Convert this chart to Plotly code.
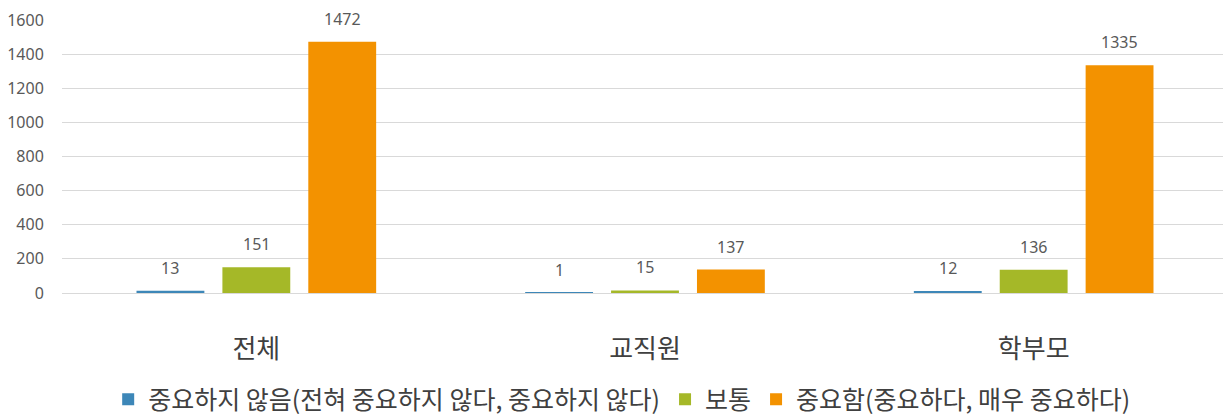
import plotly.graph_objects as go

# -- Data ---------------------------------------------------------------------

categories = ["전체", "교직원", "학부모"]
series_names = [
    "중요하지 않음(전혀 중요하지 않다, 중요하지 않다)",
    "보통",
    "중요함(중요하다, 매우 중요하다)",
]
not_important = [13, 1, 12]
neutral = [151, 15, 136]
important = [1472, 137, 1335]
y_ticks = [0, 200, 400, 600, 800, 1000, 1200, 1400, 1600]

# -- Theme --------------------------------------------------------------------

BLUE = "#3d87b8"
GREEN = "#a5b828"
ORANGE = "#f39200"
TEXT_COLOR = "#404040"
AXIS_COLOR = "#595959"
GRID_COLOR = "#d9d9d9"
NUM_FONT = "Noto Sans, sans-serif"
KR_FONT = "Noto Sans CJK KR, sans-serif"

# page body adds an 8px margin, so the figure is shifted by 8px
WIDTH, HEIGHT = 1223, 416
MARGIN = dict(l=54, r=3, t=12, b=130)
BARGAP = 0.337
LABEL_LIFT = 23  # px from bar top to the centre of its value label

all_series = [not_important, neutral, important]
colors = [BLUE, GREEN, ORANGE]

fig = go.Figure()
for name, vals, color in zip(series_names, all_series, colors):
    fig.add_trace(go.Bar(
        name=name,
        x=categories,
        y=vals,
        marker=dict(color=color, line=dict(width=0)),
        cliponaxis=False,
    ))

# value labels sit higher above the bars than plotly's outside text does
plot_w = WIDTH - MARGIN["l"] - MARGIN["r"]
slot_w = plot_w / len(categories) * (1 - BARGAP) / len(all_series)
annotations = []
for i, vals in enumerate(all_series):
    for cat, v in zip(categories, vals):
        annotations.append(dict(
            x=cat, y=v, text=str(v), showarrow=False,
            xshift=(i - 1) * slot_w, yshift=LABEL_LIFT, yanchor="middle",
            font=dict(size=16, color=AXIS_COLOR, family=NUM_FONT),
        ))

fig.update_layout(
    font=dict(family=KR_FONT, color=TEXT_COLOR),
    paper_bgcolor="#ffffff",
    plot_bgcolor="#ffffff",
    barmode="group",
    bargap=BARGAP,
    bargroupgap=0.21,
    width=WIDTH,
    height=HEIGHT,
    margin=MARGIN,
    annotations=annotations,
    xaxis=dict(
        automargin=False,
        showgrid=False,
        showline=True, linecolor=GRID_COLOR, linewidth=1,
        ticks="outside", ticklen=33, tickcolor="rgba(0,0,0,0)",
        tickfont=dict(size=26, color=TEXT_COLOR, family=KR_FONT),
    ),
    yaxis=dict(
        automargin=False,
        range=[0, 1600],
        tickvals=y_ticks,
        gridcolor=GRID_COLOR, gridwidth=1,
        zeroline=False, showline=False,
        ticks="outside", ticklen=14, tickcolor="rgba(0,0,0,0)",
        tickfont=dict(size=16, color=AXIS_COLOR, family=NUM_FONT),
    ),
    legend=dict(
        orientation="h",
        x=0.48, xanchor="center",
        y=-0.469, yanchor="bottom",
        font=dict(size=25, color=TEXT_COLOR, family=KR_FONT),
        itemwidth=30,
        tracegroupgap=0,
    ),
)

fig.write_html("out.html")
